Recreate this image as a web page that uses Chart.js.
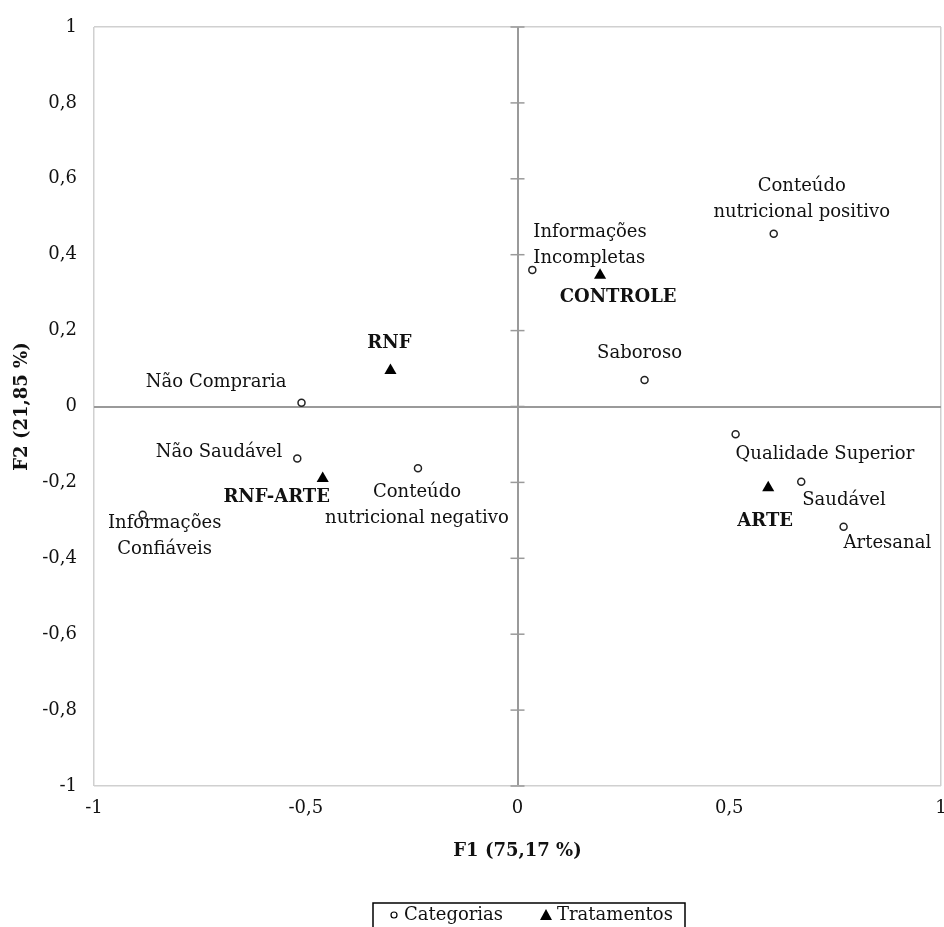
<!DOCTYPE html>
<html>
<head>
<meta charset="utf-8">
<script src="https://cdn.jsdelivr.net/npm/chart.js@4/dist/chart.umd.min.js"></script>
<style>
  html, body { margin: 0; padding: 0; background: #fff; overflow: hidden; }
  #caixa { width: 948px; height: 927px; position: relative; }
  #afc { display: block; }
</style>
</head>
<body>
<div id="caixa"><canvas id="afc"></canvas></div>
<script>
// categorias (circulos)
const categorias = [
  "Não Compraria",
  "Não Saudável",
  "Conteúdo\nnutricional negativo",
  "Informações\nConfiáveis",
  "Informações\nIncompletas",
  "Conteúdo\nnutricional positivo",
  "Saboroso",
  "Qualidade Superior",
  "Saudável",
  "Artesanal"
];
const catF1 = [-0.51, -0.52, -0.235, -0.885, 0.035, 0.605, 0.30, 0.515, 0.67, 0.77];
const catF2 = [0.01, -0.137, -0.163, -0.285, 0.36, 0.455, 0.07, -0.073, -0.198, -0.317];

// tratamentos (triangulos)
const tratamentos = ["RNF", "RNF-ARTE", "CONTROLE", "ARTE"];
const tratF1 = [-0.30, -0.46, 0.195, 0.592];
const tratF2 = [0.095, -0.19, 0.346, -0.214];

const nomeEixoX = "F1 (75,17 %)";
const nomeEixoY = "F2 (21,85 %)";

// onde fica cada rotulo em relacao ao ponto: [dx, dy, alinhamento]
const posCat = [
  [-15, -20, "right"],
  [-15, -6, "right"],
  [-1, 24, "center"],
  [22, 9, "center"],
  [1, -38, "left"],
  [28, -47, "center"],
  [-5, -27, "center"],
  [0, 20, "left"],
  [1, 19, "left"],
  [0, 17, "left"]
];
const posTrat = [
  [-1, -27, "center"],
  [-46, 19, "center"],
  [18, 22, "center"],
  [-3, 34, "center"]
];

const fonte = "'DejaVu Serif', 'Liberation Serif', serif";

function virgula(v) {
  const r = Math.round(v * 10) / 10;
  return String(r).replace(".", ",");
}

const rotulosPlugin = {
  id: "rotulos",
  afterDatasetsDraw(chart) {
    const ctx = chart.ctx;
    const area = chart.chartArea;
    const sx = chart.scales.x, sy = chart.scales.y;
    ctx.save();

    // marquinhas no eixo vertical do zero
    ctx.strokeStyle = "#9a9a9a";
    ctx.lineWidth = 1.5;
    const x0 = sx.getPixelForValue(0);
    sy.ticks.forEach(t => {
      const py = sy.getPixelForValue(t.value);
      ctx.beginPath();
      ctx.moveTo(x0 - 7, py);
      ctx.lineTo(x0 + 7, py);
      ctx.stroke();
    });

    ctx.fillStyle = "#111";
    ctx.textBaseline = "middle";
    const escreve = (texto, px, py, p, negrito) => {
      ctx.font = (negrito ? "bold " : "") + "18px " + fonte;
      ctx.textAlign = p[2];
      texto.split("\n").forEach((linha, i) => {
        ctx.fillText(linha, px + p[0], py + p[1] + i * 26);
      });
    };
    categorias.forEach((nome, i) => {
      escreve(nome, sx.getPixelForValue(catF1[i]), sy.getPixelForValue(catF2[i]), posCat[i], false);
    });
    tratamentos.forEach((nome, i) => {
      escreve(nome, sx.getPixelForValue(tratF1[i]), sy.getPixelForValue(tratF2[i]), posTrat[i], true);
    });

    // titulos dos eixos
    ctx.font = "bold 18px " + fonte;
    ctx.textAlign = "center";
    ctx.fillText(nomeEixoX, (area.left + area.right) / 2, area.bottom + 65);
    ctx.translate(22, (area.top + area.bottom) / 2);
    ctx.rotate(-Math.PI / 2);
    ctx.fillText(nomeEixoY, 0, 0);
    ctx.restore();

    // legenda com caixa
    ctx.save();
    const lx = 373, ly = 903, lw = 312;
    ctx.strokeStyle = "#000";
    ctx.lineWidth = 1.5;
    ctx.beginPath();
    ctx.moveTo(lx, chart.height + 2);
    ctx.lineTo(lx, ly);
    ctx.lineTo(lx + lw, ly);
    ctx.lineTo(lx + lw, chart.height + 2);
    ctx.stroke();
    const cy = 915;
    ctx.lineWidth = 1.2;
    ctx.beginPath();
    ctx.arc(394, cy, 3, 0, Math.PI * 2);
    ctx.stroke();
    ctx.fillStyle = "#000";
    ctx.beginPath();
    ctx.moveTo(540, cy + 5);
    ctx.lineTo(546, cy - 6);
    ctx.lineTo(552, cy + 5);
    ctx.closePath();
    ctx.fill();
    ctx.fillStyle = "#111";
    ctx.font = "18px " + fonte;
    ctx.textAlign = "left";
    ctx.textBaseline = "middle";
    ctx.fillText(chart.data.datasets[0].label, 404, cy);
    ctx.fillText(chart.data.datasets[1].label, 557, cy);
    ctx.restore();
  }
};

function corGrade(ctx) {
  const v = ctx.tick ? ctx.tick.value : null;
  if (v === 0) return "#9a9a9a";
  if (v === -1 || v === 1) return "#d0d0d0";
  return "rgba(0,0,0,0)";
}
function larguraGrade(ctx) {
  const v = ctx.tick ? ctx.tick.value : null;
  return v === 0 ? 2 : 1.5;
}

new Chart(document.getElementById("afc"), {
  type: "scatter",
  data: {
    datasets: [
      {
        label: "Categorias",
        data: catF1.map((x, i) => ({ x: x, y: catF2[i] })),
        pointStyle: "circle",
        pointRadius: 3.5,
        pointHoverRadius: 3.5,
        borderWidth: 1.5,
        borderColor: "#222",
        backgroundColor: "#fff"
      },
      {
        label: "Tratamentos",
        data: tratF1.map((x, i) => ({ x: x, y: tratF2[i] })),
        pointStyle: "triangle",
        pointRadius: 7,
        pointHoverRadius: 7,
        borderWidth: 0,
        borderColor: "#000",
        backgroundColor: "#000"
      }
    ]
  },
  options: {
    responsive: true,
    maintainAspectRatio: false,
    animation: false,
    layout: { padding: { top: 27, right: 0, left: 0, bottom: 0 } },
    plugins: {
      legend: { display: false },
      tooltip: { enabled: false }
    },
    scales: {
      x: {
        type: "linear",
        min: -1, max: 1,
        ticks: {
          stepSize: 0.5,
          padding: 12,
          color: "#111",
          font: { family: fonte, size: 18 },
          callback: v => virgula(v)
        },
        grid: { color: corGrade, lineWidth: larguraGrade, drawTicks: false },
        border: { display: false },
        afterFit: s => { s.height = 141; s.paddingLeft = 0; s.paddingRight = 0; }
      },
      y: {
        type: "linear",
        min: -1, max: 1,
        ticks: {
          stepSize: 0.2,
          padding: 17,
          color: "#111",
          font: { family: fonte, size: 18 },
          callback: v => virgula(v)
        },
        grid: { color: corGrade, lineWidth: larguraGrade, drawTicks: false },
        border: { display: false },
        afterFit: s => { s.width = 94; s.paddingTop = 0; s.paddingBottom = 0; }
      }
    }
  },
  plugins: [rotulosPlugin]
});
</script>
</body>
</html>
